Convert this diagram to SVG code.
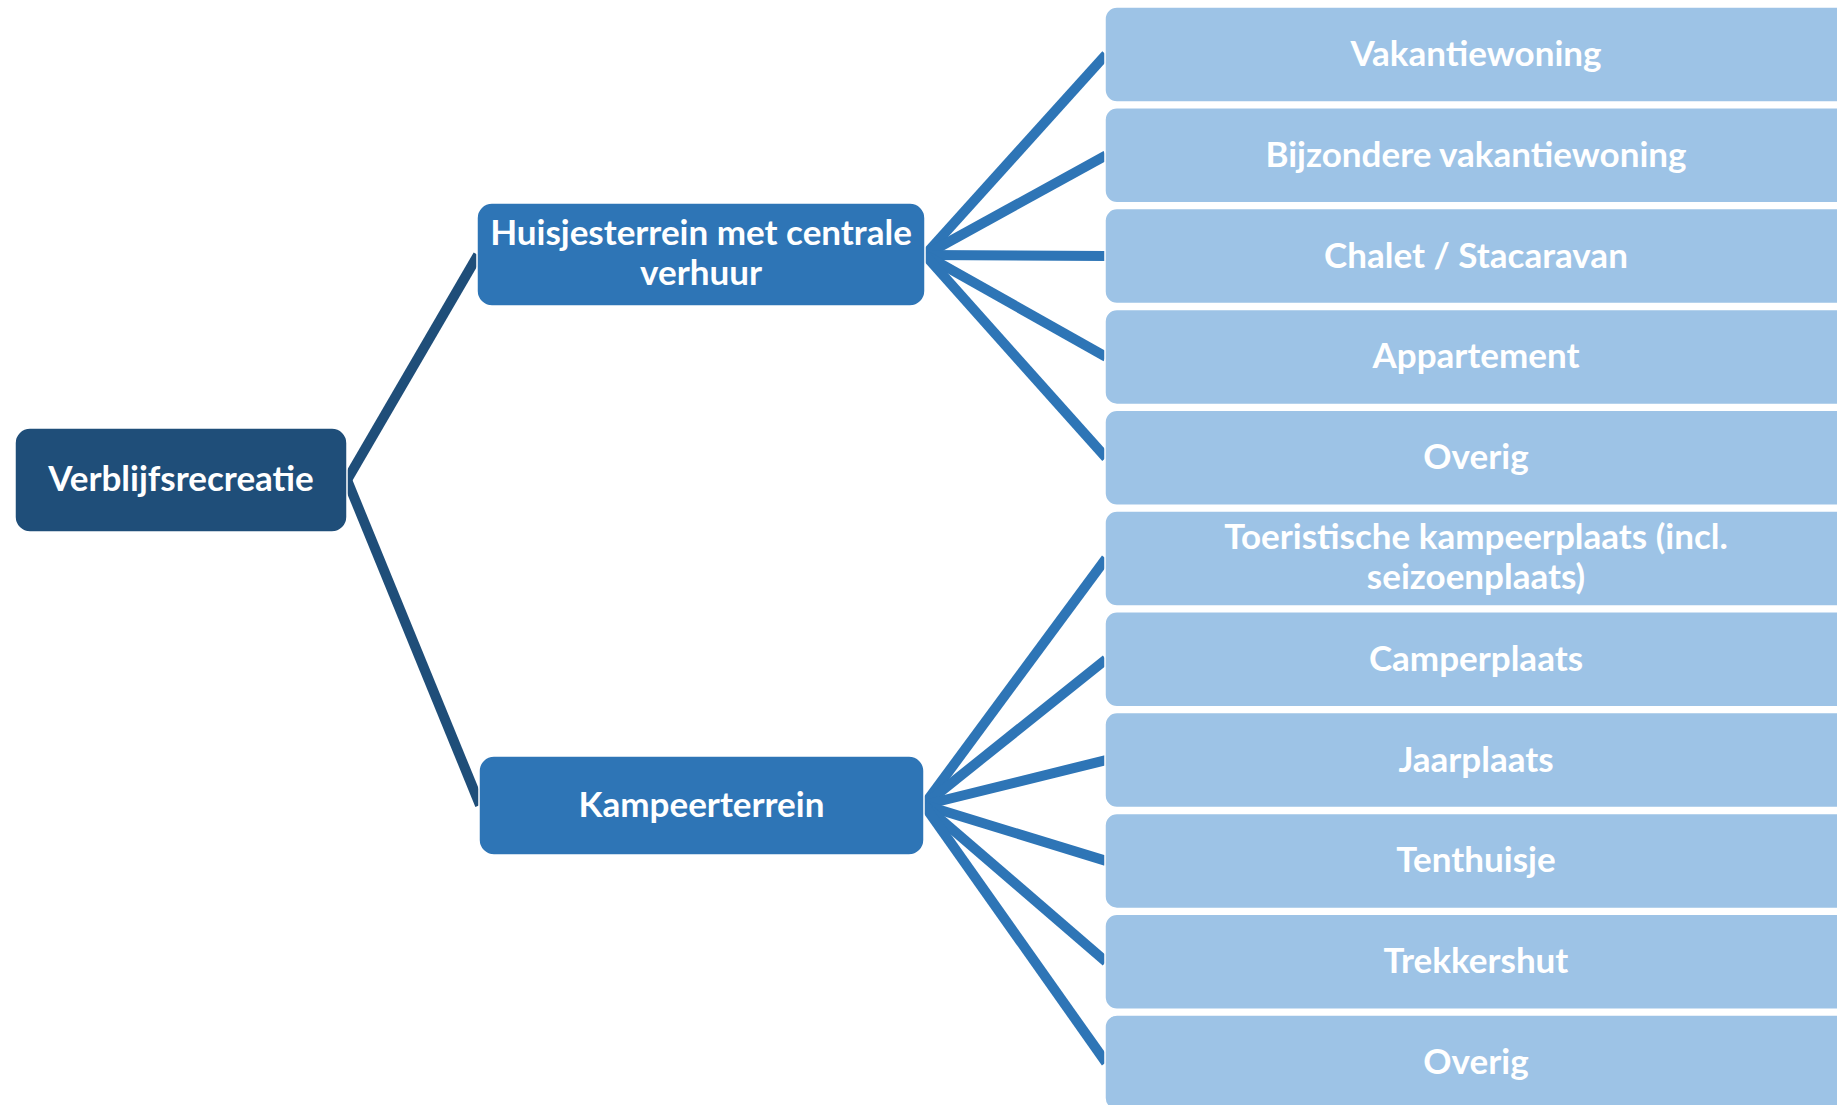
<svg xmlns="http://www.w3.org/2000/svg" width="1837" height="1105" viewBox="0 0 1837 1105">
<style>
.root{fill:#1F4E79;stroke:#fff;stroke-width:1.5}
.mid{fill:#2E75B6;stroke:#fff;stroke-width:1.5}
.leaf{fill:#9DC3E6;stroke:#fff;stroke-width:1.5}
.t{font-family:Lato,"Open Sans","Liberation Sans",sans-serif;font-weight:bold;font-size:35px;fill:#fff;text-anchor:middle}
.c1{stroke:#1F4E79;stroke-width:10;fill:none}
.c2{stroke:#2E75B6;stroke-width:10;fill:none}
</style>
<rect width="1837" height="1105" fill="#fff"/>
<g id="connectors">
<line class="c1" x1="347" y1="480" x2="478" y2="255"/>
<line class="c1" x1="347" y1="480" x2="480" y2="805"/>
<line class="c2" x1="925" y1="255" x2="1106" y2="54.5"/>
<line class="c2" x1="925" y1="255" x2="1106" y2="155.3"/>
<line class="c2" x1="925" y1="255" x2="1106" y2="256.1"/>
<line class="c2" x1="925" y1="255" x2="1106" y2="356.9"/>
<line class="c2" x1="925" y1="255" x2="1106" y2="457.7"/>
<line class="c2" x1="924" y1="805" x2="1106" y2="558.5"/>
<line class="c2" x1="924" y1="805" x2="1106" y2="659.3"/>
<line class="c2" x1="924" y1="805" x2="1106" y2="760.1"/>
<line class="c2" x1="924" y1="805" x2="1106" y2="860.9"/>
<line class="c2" x1="924" y1="805" x2="1106" y2="961.7"/>
<line class="c2" x1="924" y1="805" x2="1106" y2="1062.5"/>
</g>
<g id="n-root"><rect class="root" x="15" y="428" width="332" height="104" rx="15"/><text class="t" x="181" y="491">Verblijfsrecreatie</text></g>
<g id="n-huisjes"><rect class="mid" x="477" y="203" width="448" height="103" rx="15"/><text class="t" x="701" y="245">Huisjesterrein met centrale</text><text class="t" x="701" y="285">verhuur</text></g>
<g id="n-kampeer"><rect class="mid" x="479" y="756" width="445" height="99" rx="15"/><text class="t" x="701.5" y="817">Kampeerterrein</text></g>
<g id="l1"><rect class="leaf" x="1105" y="7" width="745" height="95" rx="12"/><text class="t" x="1476" y="66">Vakantiewoning</text></g>
<g id="l2"><rect class="leaf" x="1105" y="107.8" width="745" height="95" rx="12"/><text class="t" x="1476" y="166.8">Bijzondere vakantiewoning</text></g>
<g id="l3"><rect class="leaf" x="1105" y="208.6" width="745" height="95" rx="12"/><text class="t" x="1476" y="267.6">Chalet / Stacaravan</text></g>
<g id="l4"><rect class="leaf" x="1105" y="309.4" width="745" height="95" rx="12"/><text class="t" x="1476" y="368.4">Appartement</text></g>
<g id="l5"><rect class="leaf" x="1105" y="410.2" width="745" height="95" rx="12"/><text class="t" x="1476" y="469.2">Overig</text></g>
<g id="l6"><rect class="leaf" x="1105" y="511" width="745" height="95" rx="12"/><text class="t" x="1476" y="549">Toeristische kampeerplaats (incl.</text><text class="t" x="1476" y="589">seizoenplaats)</text></g>
<g id="l7"><rect class="leaf" x="1105" y="611.8" width="745" height="95" rx="12"/><text class="t" x="1476" y="670.8">Camperplaats</text></g>
<g id="l8"><rect class="leaf" x="1105" y="712.6" width="745" height="95" rx="12"/><text class="t" x="1476" y="771.6">Jaarplaats</text></g>
<g id="l9"><rect class="leaf" x="1105" y="813.4" width="745" height="95" rx="12"/><text class="t" x="1476" y="872.4">Tenthuisje</text></g>
<g id="l10"><rect class="leaf" x="1105" y="914.2" width="745" height="95" rx="12"/><text class="t" x="1476" y="973.2">Trekkershut</text></g>
<g id="l11"><rect class="leaf" x="1105" y="1015" width="745" height="95" rx="12"/><text class="t" x="1476" y="1074">Overig</text></g>
</svg>
